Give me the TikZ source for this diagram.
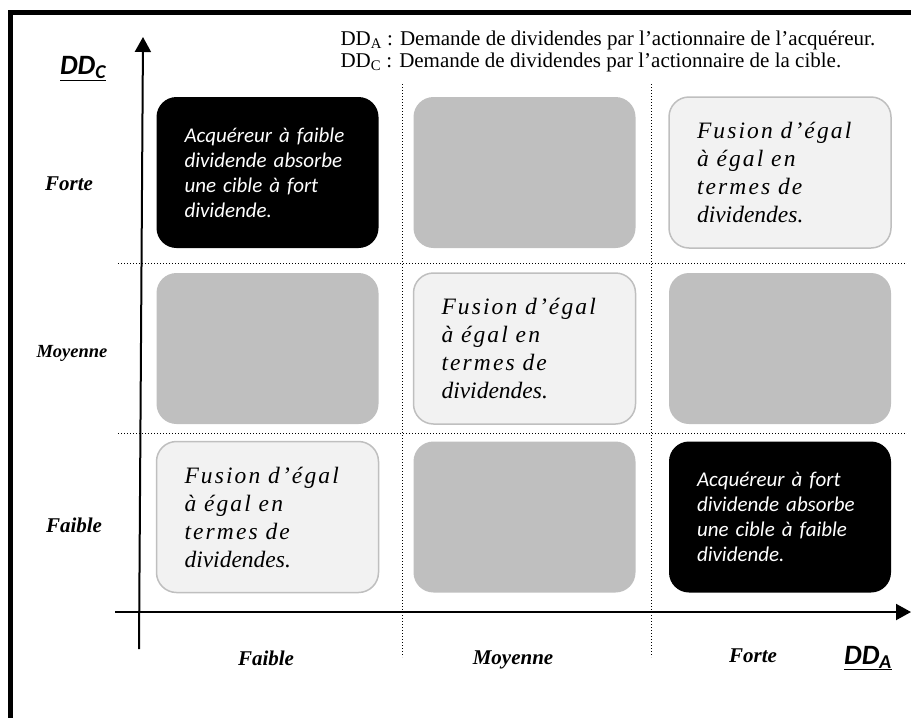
\documentclass[tikz,border=0pt]{standalone}
\usepackage{fontspec}
\setmainfont{Liberation Serif}
\newfontfamily\calibri{Carlito}
\newfontfamily\spaced[LetterSpace=9]{Liberation Serif}
\usetikzlibrary{arrows.meta}
\definecolor{cellgrey}{HTML}{BFBFBF}
\definecolor{cellpale}{HTML}{F2F2F2}

\begin{document}
\begin{tikzpicture}[x=1pt,y=-1pt,
  cell/.style={rounded corners=20pt,minimum width=222pt,minimum height=151pt,
    text width=166pt,align=left,inner sep=0pt},
  dark/.style={cell,fill=black,text=white,font=\calibri\itshape\fontsize{21}{25}\selectfont},
  grey/.style={cell,fill=cellgrey},
  light/.style={cell,fill=cellpale,draw=cellgrey,line width=1.5pt,
    font=\itshape\fontsize{23.5}{28}\selectfont},
  lev/.style={anchor=base,font=\bfseries\itshape\fontsize{21}{23}\selectfont},
  axname/.style={anchor=base,font=\calibri\bfseries\itshape\fontsize{28}{30}\selectfont},
  ax/.style={line width=2pt,-{Triangle[length=15pt,width=16pt]}},
  grid/.style={dotted,line width=1pt}]
\useasboundingbox (0,0) rectangle (911,718);
\draw[line width=5pt] (10.5,718) |- (911,12.5);
% dotted grid
\draw[grid] (402,84) -- (402,657);
\draw[grid] (651,84) -- (651,657);
\draw[grid] (118,263) -- (905,263);
\draw[grid] (118,433) -- (905,433);
% cells
\node[dark] (b13) at (267.5,172.5) {Acquéreur à faible\\ dividende absorbe\\ une cible à fort\\ dividende.};
\node[grey] (b23) at (524.5,172.5) {};
\node[light] (b33) at (780,172.5) {{\spaced Fusion d’égal}\\ {\spaced à égal en}\\ {\spaced termes de}\\ dividendes.};
\node[grey] (b12) at (267.5,348.5) {};
\node[light] (b22) at (524.5,348.5) {{\spaced Fusion d’égal}\\ {\spaced à égal en}\\ {\spaced termes de}\\ dividendes.};
\node[grey] (b32) at (780,348.5) {};
\node[light] (b11) at (267.5,517) {{\spaced Fusion d’égal}\\ {\spaced à égal en}\\ {\spaced termes de}\\ dividendes.};
\node[grey] (b21) at (524.5,517) {};
\node[dark] (b31) at (780,517) {Acquéreur à fort\\ dividende absorbe\\ une cible à faible\\ dividende.};
% axes
\coordinate (o1) at (139,649);
\coordinate (o2) at (143,37);
\coordinate (o3) at (115,612);
\coordinate (o4) at (911,612);
\draw[ax] (o1) -- (o2);
\draw[ax] (o3) -- (o4);
% labels
\node[axname] (dc) at (83,74) {\underline{DD\textsubscript{C}}};
\node[axname] (da) at (868,664) {\underline{DD\textsubscript{A}}};
\node[lev] (yf) at (69,190) {Forte};
\node[lev,font=\bfseries\itshape\fontsize{18.5}{20}\selectfont] (ym) at (72,357) {Moyenne};
\node[lev] (yl) at (74,532) {Faible};
\node[lev] (xl) at (266,665) {Faible};
\node[lev] (xm) at (513,664) {Moyenne};
\node[lev] (xf) at (753,662) {Forte};
\node[anchor=west,align=left,font=\fontsize{21}{22}\selectfont] (leg) at (337,51)
  {DD\textsubscript{A} : Demande de dividendes par l’actionnaire de l’acquéreur.\\
   DD\textsubscript{C} : Demande de dividendes par l’actionnaire de la cible.};
\end{tikzpicture}
\end{document}
